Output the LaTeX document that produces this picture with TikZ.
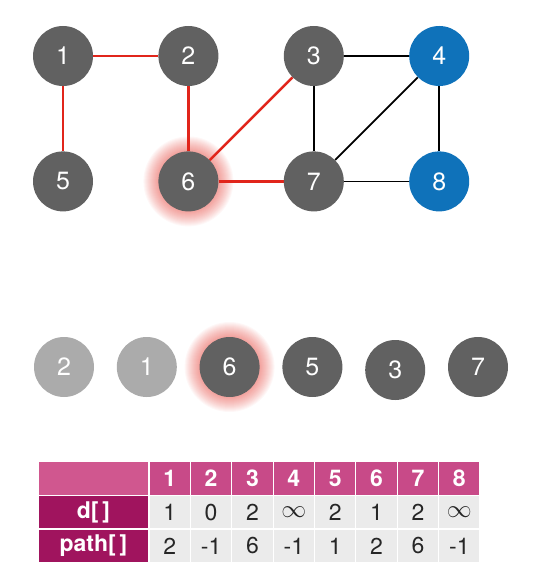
\documentclass[tikz,border=0pt]{standalone}
\usepackage{fontspec}
\setmainfont{TeX Gyre Heros}
\usetikzlibrary{positioning, backgrounds}
\definecolor{vgray}{HTML}{616161}
\definecolor{vblue}{HTML}{0F72BA}
\definecolor{vlight}{HTML}{ABABAB}
\definecolor{pathred}{HTML}{E1251B}
\definecolor{headpink}{HTML}{C84A88}
\definecolor{cornerpink}{HTML}{D0578F}
\definecolor{rowplum}{HTML}{A0145E}
\definecolor{cellgray}{HTML}{EBEBEB}
\tikzstyle{vertex} = [circle, minimum size=60pt, inner sep=0pt, fill=vgray, text=white, font=\fontsize{25}{25}\selectfont]
\tikzstyle{found} = [vertex, fill=vblue]
\tikzstyle{done} = [vertex, fill=vlight]
\tikzstyle{edge} = [line width=1.8pt, black]
\tikzstyle{tree} = [line width=2.4pt, pathred]
\tikzstyle{glow} = [pathred, opacity=0.035]
\tikzstyle{cell} = [rectangle, minimum width=41.4pt, minimum height=33.7pt, inner sep=0pt, outer sep=0pt, draw=white, line width=1.2pt, fill=cellgray, text=black!85, font=\fontsize{23}{23}\selectfont]
\tikzstyle{headcell} = [cell, fill=headpink, text=white, font=\fontsize{23}{23}\selectfont\bfseries]
\tikzstyle{rowcell} = [headcell, minimum width=111pt, fill=rowplum]
\tikzstyle{cornercell} = [rowcell, fill=cornerpink]

\begin{document}
\begin{tikzpicture}[x=1pt, y=1pt, node distance=64.5pt and 65pt]
\useasboundingbox (0,0) rectangle (538,-588);

% Graph
\node (n1) [vertex] at (63,-56) {1};
\node (n2) [vertex, right=of n1] {2};
\node (n3) [vertex, right=of n2] {3};
\node (n4) [found, right=of n3] {4};
\node (n5) [vertex, below=65pt of n1] {5};
\node (n6) [vertex, below=65pt of n2] {6};
\node (n7) [vertex, below=65pt of n3] {7};
\node (n8) [found, below=65pt of n4] {8};

% Queue
\node (qn2) [done] at (64,-367) {2};
\node (qn1) [done, right=22.4pt of qn2] {1};
\node (qn6) [vertex, right=22.4pt of qn1] {6};
\node (qn5) [vertex, right=22.4pt of qn6] {5};
\node (qn3) [vertex, right=22.4pt of qn5, yshift=-3pt] {3};
\node (qn7) [vertex, right=22.4pt of qn3, yshift=3pt] {7};

% Edges
\begin{pgfonlayer}{background}
\foreach \r in {31,...,45} {
  \fill [glow] (n6) circle (\r pt);
  \fill [glow] (qn6) circle (\r pt);
}
\draw [tree] (n1) -- (n2);
\draw [tree] (n1) -- (n5);
\draw [tree] (n2) -- (n6);
\draw [tree] (n6) -- (n3);
\draw [tree] (n6) -- (n7);
\draw [edge] (n3) -- (n4);
\draw [edge] (n3) -- (n7);
\draw [edge] (n4) -- (n7);
\draw [edge] (n4) -- (n8);
\draw [edge] (n7) -- (n8);
\end{pgfonlayer}

% Table
\node (corner) [cornercell] at (93.5,-478.5) {};
\node (drow) [rowcell, below=0pt of corner] {d[\,]};
\node (prow) [rowcell, below=0pt of drow] {path[\,]};
\foreach \dv/\pv [count=\i] in {1/2, 0/-1, 2/6, $\infty$/-1, 2/1, 1/2, 2/6, $\infty$/-1} {
  \node (h\i) [headcell] at ({149+41.375*(\i-0.5)}, -478.5) {\i};
  \node (d\i) [cell, below=0pt of h\i] {\dv};
  \node (p\i) [cell, below=0pt of d\i] {\pv};
}

\end{tikzpicture}
\end{document}
